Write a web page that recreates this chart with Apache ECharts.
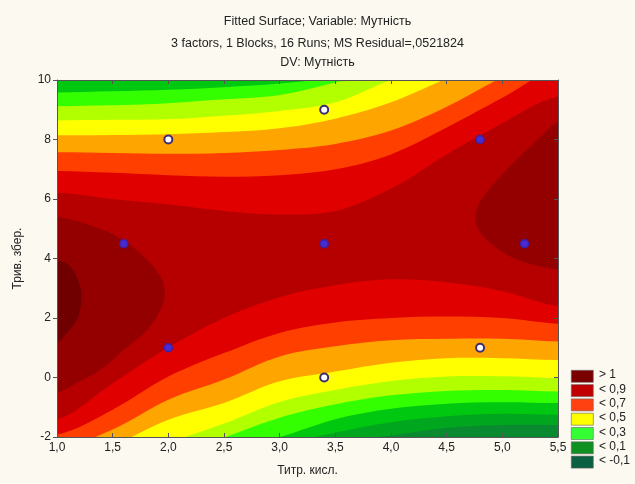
<!DOCTYPE html>
<html>
<head>
<meta charset="utf-8">
<script src="https://cdn.jsdelivr.net/npm/echarts@6/dist/echarts.min.js"></script>
<style>
  html, body { margin: 0; padding: 0; background: #fcf9f1; }
  #chart { width: 635px; height: 484px; }
</style>
</head>
<body>
<div id="chart"></div>
<script>
// contour lines, y value at each x column
const xs = [1, 1.5, 2, 2.5, 3, 3.5, 4, 4.5, 5, 5.5]

// upper side of the saddle (z falls when going up)
const top00 = [11, 11.1, 11.3, 11.5, 11.8, 12.2, 12.6, 13, 13.5, 14]
const top01 = [10.5, 10.55, 10.6, 10.8, 11.1, 11.5, 11.9, 12.4, 12.9, 13.4]
const top02 = [10.02, 10.05, 10.1, 10.2, 10.4, 10.7, 11.1, 11.6, 12.1, 12.6]
const top03 = [9.58, 9.62, 9.67, 9.76, 9.88, 10.1, 10.5, 11, 11.5, 12]
const top04 = [9.12, 9.15, 9.22, 9.35, 9.5, 9.92, 10.4, 10.9, 11.4, 12]
const top05 = [8.64, 8.66, 8.68, 8.8, 8.96, 9.25, 10.0, 10.6, 11.1, 11.6]
const top06 = [8.14, 8.15, 8.18, 8.25, 8.38, 8.7, 9.25, 10.05, 10.8, 11.5]
const top07 = [7.57, 7.55, 7.52, 7.55, 7.65, 7.85, 8.3, 9.1, 10.1, 11]
const top08 = [6.94, 6.88, 6.8, 6.75, 6.8, 7.0, 7.5, 8.4, 9.4, 10.4]
const top09 = [6.22, 6.0, 5.82, 5.6, 5.48, 5.6, 6.35, 7.5, 8.55, 9.45]

// lower side
const bot00 = [-6.5, -6, -5.2, -4.5, -3.6, -2.9, -2.4, -2.15, -2.05, -2.02]
const bot01 = [-5.5, -4.9, -4.2, -3.5, -2.7, -2.2, -1.95, -1.7, -1.6, -1.6]
const bot02 = [-5, -4.4, -3.7, -3.0, -2.3, -1.85, -1.5, -1.3, -1.22, -1.25]
const bot03 = [-4.5, -3.9, -3.2, -2.45, -2.0, -1.4, -1.05, -0.88, -0.83, -0.86]
const bot04 = [-4, -3.4, -2.7, -2.02, -1.35, -0.9, -0.6, -0.45, -0.42, -0.47]
const bot05 = [-3.5, -2.9, -2.2, -1.55, -0.82, -0.42, -0.12, 0.03, 0.04, -0.02]
const bot06 = [-3.0, -2.3, -1.42, -0.86, -0.13, 0.2, 0.5, 0.65, 0.65, 0.59]
const bot07 = [-2.4, -1.75, -0.75, -0.07, 0.71, 1.05, 1.25, 1.3, 1.3, 1.21]
const bot08 = [-1.92, -1.08, 0.03, 0.82, 1.5, 1.85, 2.0, 2.05, 2.0, 1.81]
const bot09 = [-1.42, -0.19, 1.01, 2.0, 2.7, 3.1, 3.3, 3.2, 2.9, 2.4]

// closed contours (x, y) of the high spots
const blobLeft10 = [[0.8, 5.6], [1, 5.41], [1.24, 5.19], [1.54, 4.74], [1.78, 4.07], [1.93, 3.39], [1.97, 2.84], [1.93, 2.28], [1.81, 1.6], [1.6, 0.93], [1.39, 0.26], [1.12, -0.3], [1, -0.52], [0.8, -0.7]]
const blobLeft11 = [[0.8, 4.1], [1, 3.96], [1.12, 3.73], [1.21, 3.06], [1.22, 2.61], [1.18, 1.94], [1.06, 1.38], [1, 1.16], [0.8, 1.0]]
const blobRight10 = [[5.7, 8.8], [5.5, 8.6], [5.25, 7.76], [5.01, 6.87], [4.83, 6.08], [4.76, 5.53], [4.77, 5.08], [4.89, 4.52], [5.13, 3.96], [5.5, 3.62], [5.7, 3.5]]

// design points
const ringPts = [[2, 8], [3.4, 9], [3.4, 0], [4.8, 1]]
const dotPts = [[4.8, 8], [1.6, 4.5], [3.4, 4.5], [5.2, 4.5], [2, 1]]

// band colours, lowest first (< 0, 0..0.1, ... , > 1.1)
const bandColors = ['#086b3e', '#0a8a30', '#00a61e', '#00c810', '#33ff00', '#b2ff00', '#ffff00',
    '#ffa500', '#ff3f00', '#e00000', '#b60000', '#940000', '#700000']

const legendLabels = ['> 1', '< 0,9', '< 0,7', '< 0,5', '< 0,3', '< 0,1', '< -0,1']
const legendColors = ['#7a0000', '#c00000', '#ff4010', '#ffff00', '#33ff33', '#109020', '#0a6040']

const tops = [top00, top01, top02, top03, top04, top05, top06, top07, top08, top09]
const bots = [bot00, bot01, bot02, bot03, bot04, bot05, bot06, bot07, bot08, bot09]

function band(top, bot) {
    const pts = [[0.5, top[0]]]
    xs.forEach((x, i) => pts.push([x, top[i]]))
    pts.push([6, top[top.length - 1]], [6, bot[bot.length - 1]])
    for (let i = xs.length - 1; i >= 0; i--) pts.push([xs[i], bot[i]])
    pts.push([0.5, bot[0]])
    return pts
}

const regions = tops.map((t, i) => ({ pts: band(t, bots[i]), color: bandColors[i + 1] }))
regions.push({ pts: blobLeft10, color: bandColors[11] })
regions.push({ pts: blobRight10, color: bandColors[11] })
regions.push({ pts: blobLeft11, color: bandColors[12] })

const font = 'Liberation Sans, Arial, sans-serif'
const chart = echarts.init(document.getElementById('chart'))

const legendGraphic = []
legendLabels.forEach((lab, i) => {
    const y = 370 + i * 14.3
    legendGraphic.push({
        type: 'rect', left: 571, top: y, shape: { width: 22, height: 12 },
        style: { fill: legendColors[i], stroke: '#666', lineWidth: 0.6 }
    })
    legendGraphic.push({
        type: 'text', left: 599, top: y - 1,
        style: { text: lab, font: '12px ' + font, fill: '#222' }
    })
})

const titleStyle = { fontSize: 12.5, fontWeight: 'normal', color: '#222', fontFamily: font }
const edge = { onZero: false, lineStyle: { color: '#555', width: 1 } }

chart.setOption({
    backgroundColor: '#fcf9f1',
    animation: false,
    title: [
        { text: 'Fitted Surface; Variable: Мутність', left: 'center', top: 10, textStyle: titleStyle },
        { text: '3 factors, 1 Blocks, 16 Runs; MS Residual=,0521824', left: 'center', top: 32, textStyle: titleStyle },
        { text: 'DV: Мутність', left: 'center', top: 51, textStyle: titleStyle }
    ],
    grid: { left: 57, right: 77, top: 80, bottom: 47, show: true, backgroundColor: bandColors[0], borderWidth: 0 },
    xAxis: [{
        type: 'value', min: 1, max: 5.5, interval: 0.5, z: 10,
        name: 'Титр. кисл.', nameLocation: 'middle', nameGap: 28,
        nameTextStyle: { fontSize: 12, color: '#222', fontFamily: font },
        axisLine: edge,
        axisTick: { inside: true, length: 4, lineStyle: { color: '#555' } },
        axisLabel: { margin: 5, fontSize: 12, color: '#222', fontFamily: font,
            formatter: v => v.toFixed(1).replace('.', ',') },
        splitLine: { show: false }
    }, {
        type: 'value', position: 'top', min: 1, max: 5.5, interval: 0.5, z: 10,
        axisLine: edge,
        axisTick: { inside: true, length: 4, lineStyle: { color: '#555' } },
        axisLabel: { show: false }, splitLine: { show: false }
    }],
    yAxis: [{
        type: 'value', min: -2, max: 10, interval: 2, z: 10,
        name: 'Трив. збер.', nameLocation: 'middle', nameGap: 33,
        nameTextStyle: { fontSize: 12, color: '#222', fontFamily: font },
        axisLine: Object.assign({ show: true }, edge),
        axisTick: { show: true, length: 4, lineStyle: { color: '#555' } },
        axisLabel: { margin: 6, fontSize: 12, color: '#222', fontFamily: font },
        splitLine: { show: false }
    }, {
        type: 'value', position: 'right', min: -2, max: 10, interval: 2, z: 10,
        axisLine: Object.assign({ show: true }, edge),
        axisTick: { show: true, inside: true, length: 4, lineStyle: { color: '#555' } },
        axisLabel: { show: false }, splitLine: { show: false }
    }],
    graphic: legendGraphic,
    series: [{
        type: 'custom',
        silent: true,
        clip: true,
        data: regions.map(() => [1, -2]),
        renderItem: (params, api) => {
            const r = regions[params.dataIndex]
            return {
                type: 'polygon',
                shape: { points: r.pts.map(p => api.coord(p)), smooth: 0.35 },
                style: { fill: r.color }
            }
        }
    }, {
        type: 'scatter',
        silent: true,
        symbolSize: 8,
        data: ringPts,
        itemStyle: { color: '#ffffff', borderColor: '#3b2d72', borderWidth: 2, opacity: 1 },
        z: 5
    }, {
        type: 'scatter',
        silent: true,
        symbolSize: 8,
        data: dotPts,
        itemStyle: { color: '#4a2bd0', borderColor: '#3a22a8', borderWidth: 1.5, opacity: 1 },
        z: 5
    }]
})
</script>
</body>
</html>
